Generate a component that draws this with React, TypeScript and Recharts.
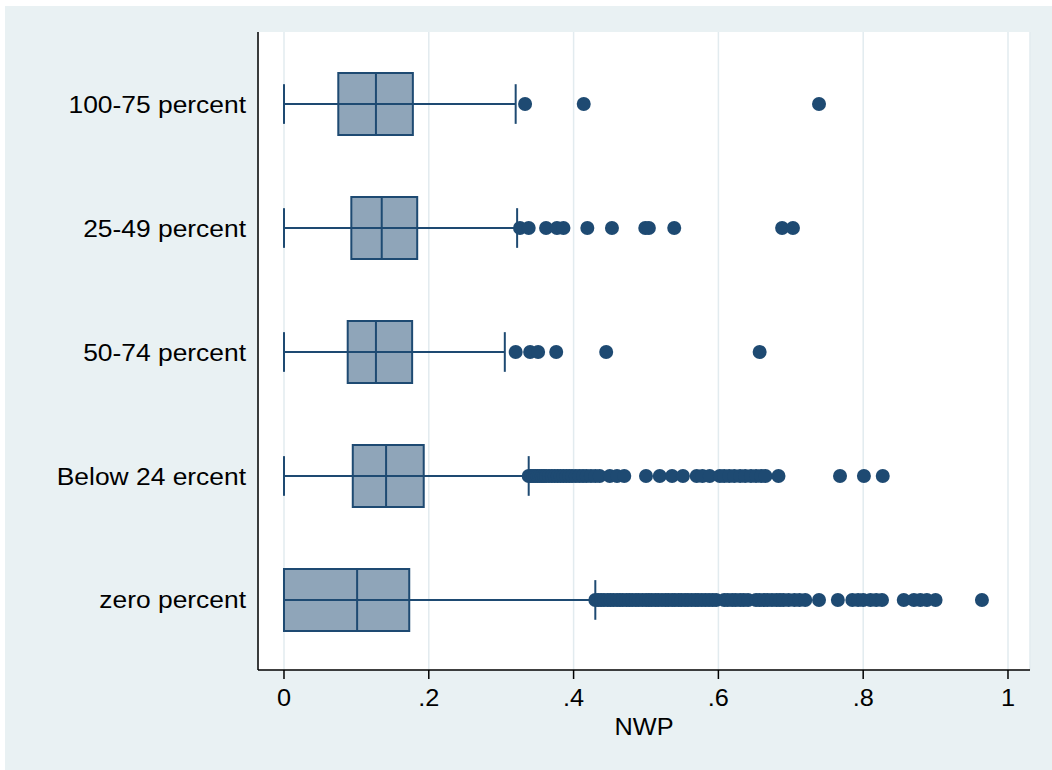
import React from 'react';
import {
  ComposedChart,
  XAxis,
  YAxis,
  CartesianGrid,
  Scatter,
  ReferenceArea,
  ReferenceLine,
} from 'recharts';

// groups, top to bottom
const categories = [
  '100-75 percent',
  '25-49 percent',
  '50-74 percent',
  'Below 24 ercent',
  'zero percent',
];

// box plot summaries (NWP share)
const lowerWhisker = [0, 0, 0, 0, 0];
const q1 = [0.075, 0.093, 0.088, 0.095, 0];
const median = [0.127, 0.135, 0.127, 0.141, 0.101];
const q3 = [0.178, 0.184, 0.177, 0.193, 0.173];
const upperWhisker = [0.32, 0.322, 0.305, 0.338, 0.43];

// outside values per group
const outliers75to100 = [0.333, 0.414, 0.739];
const outliers25to49 = [
  0.326, 0.338, 0.362, 0.377, 0.386, 0.419, 0.453, 0.499, 0.504, 0.539, 0.688, 0.703,
];
const outliers50to74 = [0.32, 0.34, 0.351, 0.376, 0.445, 0.657];
const outliersBelow24 = [
  0.338, 0.341, 0.344, 0.347, 0.35, 0.353, 0.356, 0.359, 0.362, 0.366, 0.37, 0.374,
  0.378, 0.382, 0.386, 0.39, 0.394, 0.398, 0.403, 0.408, 0.413, 0.418, 0.424, 0.43,
  0.436, 0.45, 0.46, 0.47, 0.5, 0.519, 0.536, 0.551, 0.57, 0.578, 0.588, 0.602, 0.608,
  0.615, 0.622, 0.63, 0.637, 0.645, 0.652, 0.659, 0.665, 0.683, 0.768, 0.801, 0.827,
];
const outliersZero = [
  0.43, 0.434, 0.438, 0.442, 0.447, 0.451, 0.455, 0.46, 0.464, 0.468, 0.473, 0.477,
  0.481, 0.486, 0.49, 0.495, 0.5, 0.504, 0.508, 0.513, 0.517, 0.522, 0.527, 0.531,
  0.536, 0.54, 0.545, 0.549, 0.554, 0.558, 0.563, 0.568, 0.572, 0.577, 0.582, 0.587,
  0.592, 0.597, 0.608, 0.613, 0.619, 0.624, 0.63, 0.635, 0.641, 0.652, 0.657, 0.663,
  0.668, 0.674, 0.68, 0.685, 0.69, 0.697, 0.705, 0.712, 0.72, 0.739, 0.765, 0.785,
  0.793, 0.8, 0.81, 0.818, 0.826, 0.856, 0.87, 0.879, 0.888, 0.9, 0.964,
];

const outlierGroups = [
  outliers75to100,
  outliers25to49,
  outliers50to74,
  outliersBelow24,
  outliersZero,
];

const xTicks = [0, 0.2, 0.4, 0.6, 0.8, 1];
const yTicks = [0, 1, 2, 3, 4];

const BOX_FILL = '#8FA5B9';
const NAVY = '#1E4A72';
const FONT = '"Liberation Sans", Arial, Helvetica, sans-serif';
const STRETCH = 1.1;

const outlierData = outlierGroups.flatMap((vals, i) => vals.map((v) => ({ x: v, y: i })));

const formatX = (v: number) => (v === 0 ? '0' : v === 1 ? '1' : String(v).replace(/^0/, ''));

const XTick = ({ x, y, payload }: any) => (
  <text
    transform={`translate(${x},${y}) scale(${STRETCH},1)`}
    textAnchor="middle"
    dy="0.71em"
    fontSize={23}
    fontFamily={FONT}
    fill="#000"
  >
    {formatX(payload.value)}
  </text>
);

const YTick = ({ x, y, payload }: any) => (
  <text
    transform={`translate(${x},${y}) scale(${STRETCH},1)`}
    textAnchor="end"
    dy="0.355em"
    fontSize={24}
    fontFamily={FONT}
    fill="#000"
  >
    {categories[payload.value]}
  </text>
);

const XLabel = ({ viewBox }: any) => (
  <text
    transform={`translate(${viewBox.x + viewBox.width / 2},${viewBox.y + 65}) scale(${STRETCH},1)`}
    textAnchor="middle"
    fontSize={23}
    fontFamily={FONT}
    fill="#000"
  >
    NWP
  </text>
);

export default function App() {
  return (
    <div
      style={{
        position: 'absolute',
        left: 0,
        top: 0,
        width: 1052,
        height: 770,
        background: '#FFFFFF',
      }}
    >
      <div
        style={{
          position: 'absolute',
          left: 5,
          top: 6,
          width: 1047,
          height: 764,
          background: '#E9F1F3',
        }}
      >
        <ComposedChart
          width={1047}
          height={764}
          margin={{ top: 26, right: 22, left: 0, bottom: 30 }}
        >
          <CartesianGrid
            horizontal={false}
            stroke="#E2EBEF"
            strokeWidth={1.5}
            fill="#FFFFFF"
          />
          <XAxis
            type="number"
            dataKey="x"
            domain={[-0.0359, 1.0304]}
            ticks={xTicks}
            height={70}
            tickSize={9}
            tickMargin={11}
            tick={<XTick />}
            axisLine={{ stroke: '#000', strokeWidth: 1.5 }}
            tickLine={{ stroke: '#000', strokeWidth: 1.5 }}
            label={<XLabel />}
          />
          <YAxis
            type="number"
            dataKey="y"
            domain={[-0.581, 4.565]}
            reversed
            ticks={yTicks}
            width={253}
            tickSize={0}
            tickMargin={12}
            tickLine={false}
            tick={<YTick />}
            axisLine={{ stroke: '#000', strokeWidth: 1.5 }}
          />
          {categories.map((c, i) => (
            <ReferenceLine
              key={`wl-${c}`}
              segment={[
                { x: lowerWhisker[i], y: i },
                { x: upperWhisker[i], y: i },
              ]}
              stroke={NAVY}
              strokeWidth={2}
            />
          ))}
          {categories.map((c, i) => (
            <ReferenceLine
              key={`cl-${c}`}
              segment={[
                { x: lowerWhisker[i], y: i - 0.16 },
                { x: lowerWhisker[i], y: i + 0.16 },
              ]}
              stroke={NAVY}
              strokeWidth={2}
            />
          ))}
          {categories.map((c, i) => (
            <ReferenceLine
              key={`cu-${c}`}
              segment={[
                { x: upperWhisker[i], y: i - 0.16 },
                { x: upperWhisker[i], y: i + 0.16 },
              ]}
              stroke={NAVY}
              strokeWidth={2}
            />
          ))}
          {categories.map((c, i) => (
            <ReferenceArea
              key={`box-${c}`}
              x1={q1[i]}
              x2={q3[i]}
              y1={i - 0.25}
              y2={i + 0.25}
              fill={BOX_FILL}
              fillOpacity={1}
              stroke={NAVY}
              strokeWidth={2}
            />
          ))}
          {categories.map((c, i) => (
            <ReferenceLine
              key={`med-${c}`}
              segment={[
                { x: median[i], y: i - 0.25 },
                { x: median[i], y: i + 0.25 },
              ]}
              stroke={NAVY}
              strokeWidth={2}
            />
          ))}
          <Scatter
            data={outlierData}
            isAnimationActive={false}
            shape={(p: any) => <circle cx={p.cx} cy={p.cy} r={7} fill={NAVY} />}
          />
        </ComposedChart>
      </div>
    </div>
  );
}
